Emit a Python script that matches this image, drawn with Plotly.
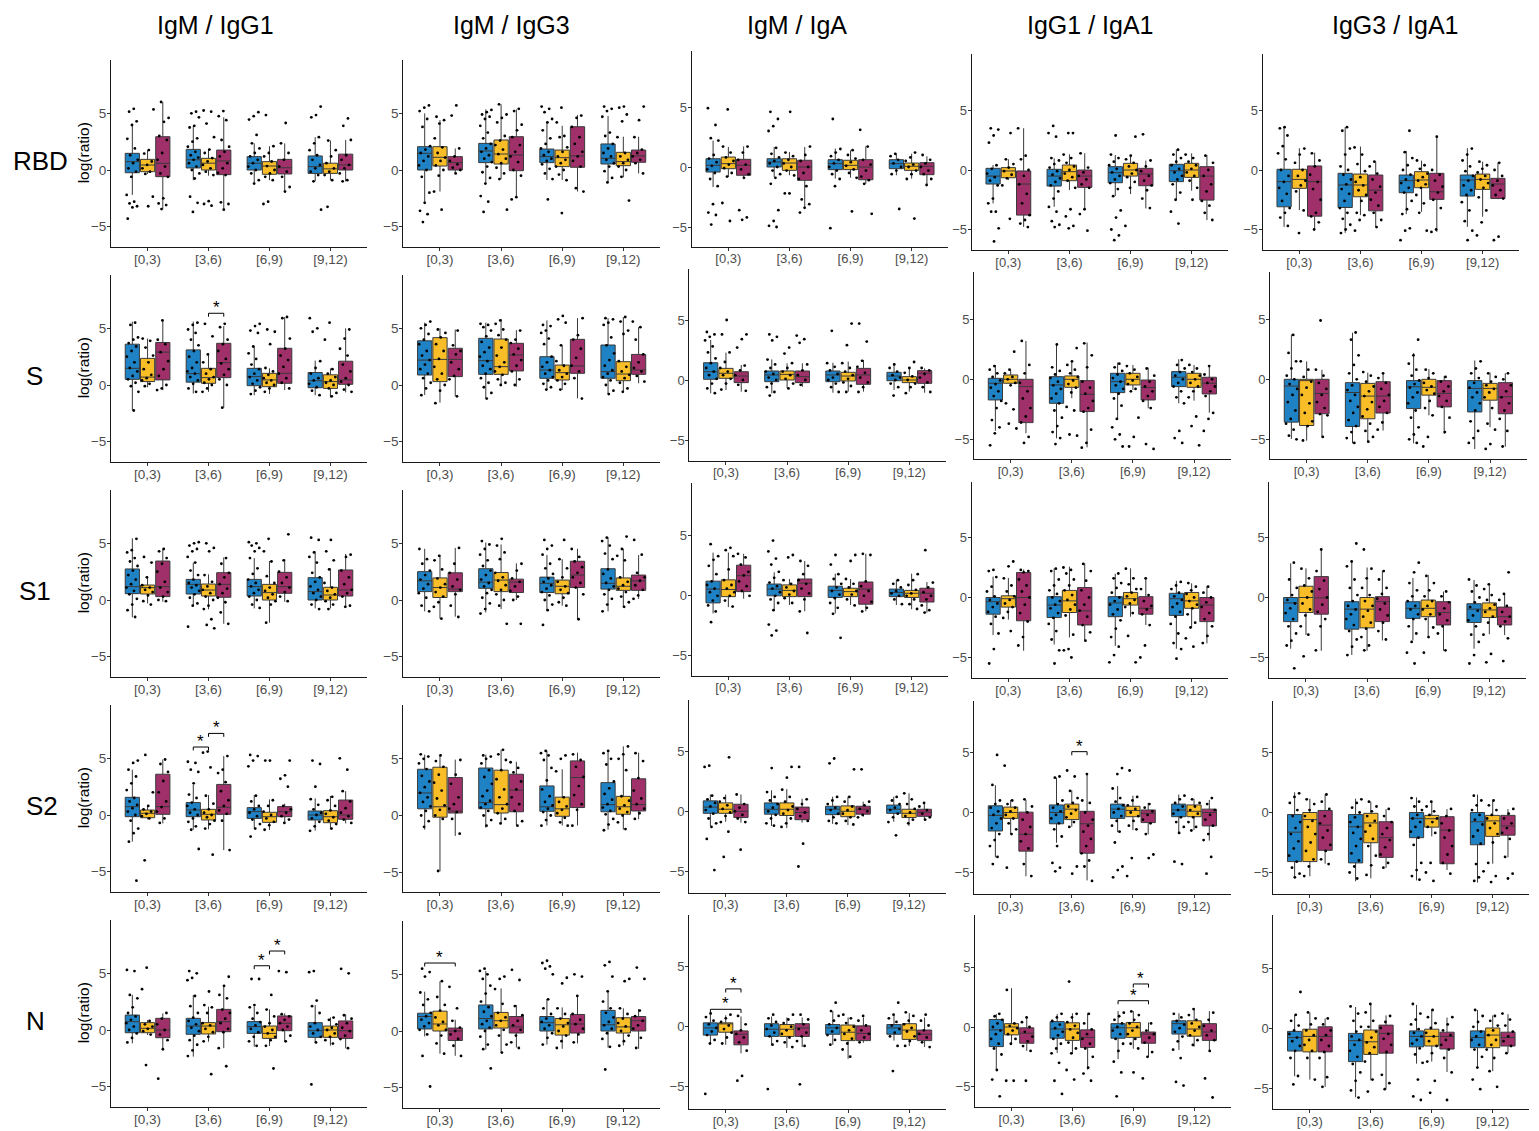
import plotly.graph_objects as go

ROWS = ["RBD", "S", "S1", "S2", "N"]
COLS = ["IgM / IgG1", "IgM / IgG3", "IgM / IgA", "IgG1 / IgA1", "IgG3 / IgA1"]
BINS = ["[0,3)", "[3,6)", "[6,9)", "[9,12)"]
GROUP_COLORS = ["#1f82c4", "#f9bd28", "#a0306a"]

# Box stats per box: [lower whisker, q1, median, q3, upper whisker]
# order: bin [0,3) blue, yellow, magenta, bin [3,6) blue, yellow, magenta, ...
RBD_MG1_BOX = [[-2.2,-0.24,0.74,1.47,3.97],[-0.35,-0.15,0.44,0.94,1.76],[-3.47,-0.59,0.59,2.94,6.0],
               [-0.9,0.18,0.9,1.82,3.9],[-0.5,0.0,0.6,1.03,1.8],[-3.5,-0.41,0.8,1.76,4.65],
               [-1.2,0.0,0.6,1.18,2.35],[-0.9,-0.38,0.35,0.74,2.1],[-1.9,-0.35,0.2,0.94,2.35],
               [-1.0,-0.3,0.3,1.24,2.9],[-0.9,-0.3,0.1,0.6,2.6],[-1.0,0.0,0.45,1.4,2.65]]
RBD_MG1_PTS = [[5.4,5.15,4.3,3.97,2.75,1.9,1.3,0.9,0.6,0.15,-0.15,-0.6,-2.2,-2.8,-2.95,-3.2,-3.3,-4.3],
               [5.35,1.76,1.45,0.75,0.45,0.15,-0.15,-0.35,-2.35,-3.2],
               [6.0,4.6,4.25,3.0,2.65,1.5,0.9,0.3,-0.3,-0.6,-2.5,-2.95,-3.1,-3.45],
               [5.15,5.0,4.65,3.9,3.75,2.8,2.5,2.05,1.6,1.3,1.1,0.9,0.6,0.3,0.0,-0.3,-0.75,-2.35,-2.9,-3.7],
               [5.25,5.15,4.1,2.9,1.8,1.5,1.05,0.75,0.45,0.15,-0.15,-0.45,-2.75,-3.0,-3.15],
               [5.2,4.75,4.4,2.65,2.05,1.6,1.2,0.6,0.15,-0.25,-0.45,-2.85,-3.0,-3.5],
               [5.1,4.75,4.45,3.1,2.35,1.9,1.5,1.2,0.9,0.6,0.3,0.0,-0.3,-0.9,-1.2],
               [4.85,2.1,1.5,1.2,0.75,0.35,0.0,-0.3,-0.6,-0.9,-2.8,-3.0],
               [4.15,2.35,1.5,0.9,0.3,-0.15,-0.6,-1.5,-1.9],
               [5.6,4.85,4.65,2.9,2.35,1.75,1.3,0.9,0.45,0.15,-0.15,-0.45,-1.0,-3.5],
               [2.6,1.75,1.2,0.6,0.15,-0.15,-0.45,-0.9,-3.25],
               [4.55,3.9,2.65,1.3,0.9,0.45,0.15,-0.3,-0.9,-1.0]]

RBD_MG3_BOX = [[-2.9,0.0,1.47,2.06,5.0],[-1.9,0.35,1.12,2.06,4.4],[-0.3,0.0,0.65,1.18,1.9],
               [-1.12,0.65,1.68,2.35,5.35],[-0.82,0.53,1.41,2.65,5.8],[-2.35,-0.06,1.32,2.94,5.35],
               [-0.88,0.65,1.18,1.85,4.26],[-0.88,0.3,1.09,1.76,3.9],[-1.9,0.24,1.24,3.82,4.85],
               [-1.12,0.53,1.03,2.3,4.76],[-0.65,0.38,0.74,1.56,2.94],[-0.3,0.68,1.24,1.76,2.94]]
RBD_MG3_PTS = [[5.7,5.5,5.2,4.5,3.8,2.1,1.8,1.5,1.2,0.8,0.4,0.0,-0.6,-2.0,-2.9,-3.6,-3.9,-4.6],
               [4.7,4.4,4.1,2.8,2.0,1.5,1.1,0.8,0.4,0.0,-0.5,-1.9,-3.5],
               [5.7,4.8,1.9,1.2,0.8,0.5,0.2,0.0,-0.3],
               [5.3,5.1,4.9,4.7,4.5,3.9,3.3,2.8,2.3,1.9,1.6,1.3,1.0,0.7,0.3,-0.2,-0.7,-1.2,-2.3,-2.8,-3.7],
               [5.8,4.9,4.6,4.2,3.0,2.6,2.2,1.8,1.4,1.0,0.6,0.2,-0.3,-0.8,-3.5],
               [5.4,5.2,4.0,3.5,2.9,2.2,1.6,1.2,0.7,0.0,-0.5,-2.4,-2.6],
               [5.6,5.4,5.1,4.5,4.2,3.5,2.8,2.3,1.9,1.6,1.3,1.0,0.8,0.5,0.1,-0.3,-0.8,-2.6],
               [5.5,4.2,3.0,2.9,2.0,1.6,1.2,0.9,0.6,0.3,0.0,-0.4,-0.9,-3.8],
               [4.8,4.6,3.8,2.9,2.3,1.6,1.2,0.8,0.3,-1.6,-1.9],
               [5.6,5.4,5.2,4.7,3.3,3.0,2.3,1.9,1.5,1.2,0.9,0.6,0.3,-0.1,-0.7,-1.1],
               [5.6,5.5,4.9,4.3,2.9,1.5,1.2,0.9,0.6,0.3,0.0,-0.6,-2.7],
               [5.6,4.4,2.9,1.8,1.5,1.2,0.9,0.6,-0.3]]

RBD_MA_BOX = [[-1.67,-0.42,0.14,0.69,2.2],[-0.83,-0.14,0.28,0.83,1.67],[-0.89,-0.69,0.14,0.64,1.72],
              [-0.83,0.0,0.42,0.69,1.67],[-0.69,-0.28,0.33,0.69,1.25],[-3.33,-1.11,0.0,0.56,1.67],
              [-0.97,-0.22,0.28,0.61,1.53],[-0.89,-0.22,0.14,0.56,1.39],[-1.39,-1.06,0.0,0.61,1.72],
              [-0.69,-0.14,0.28,0.61,1.11],[-0.97,-0.28,0.06,0.33,1.11],[-1.53,-0.64,0.06,0.36,0.89]]
RBD_MA_PTS = [[4.9,3.5,2.4,2.2,1.0,0.7,0.4,0.1,-0.2,-0.5,-1.0,-1.6,-3.1,-3.8,-4.0,-4.8],
              [4.8,1.7,1.2,0.8,0.5,0.2,-0.1,-0.5,-0.8,-3.0,-4.5],
              [1.7,1.2,0.6,0.2,-0.2,-0.6,-0.9,-3.6,-4.2,-4.4],
              [4.6,4.0,3.4,3.0,1.6,1.1,0.8,0.5,0.3,0.0,-0.3,-0.6,-0.9,-1.4,-3.6,-4.5,-4.9,-5.0],
              [4.6,1.2,0.9,0.6,0.3,0.0,-0.3,-0.7,-2.2,-2.2],
              [1.7,1.0,0.5,0.0,-0.5,-1.0,-1.6,-2.7,-3.1,-3.4,-3.8],
              [4.0,1.5,1.2,0.9,0.6,0.3,0.0,-0.3,-0.6,-1.0,-1.6,-5.1],
              [1.4,1.0,0.7,0.4,0.1,-0.2,-0.5,-0.9,-3.7],
              [3.1,1.7,0.6,0.2,-0.3,-0.8,-1.1,-1.4,-3.9],
              [1.1,0.9,0.6,0.3,0.0,-0.3,-0.6,-3.5],
              [1.2,0.8,0.5,0.2,0.0,-0.3,-0.6,-1.0,-4.3],
              [1.0,0.6,0.3,0.0,-0.3,-0.6,-1.0,-1.5]]

RBD_G1A1_BOX = [[-2.81,-1.18,-0.51,0.14,0.42],[-0.84,-0.65,-0.08,0.2,0.9],[-4.78,-3.79,-1.18,-0.08,3.51],
                [-3.09,-1.35,-0.51,0.06,0.98],[-1.69,-0.9,-0.14,0.42,1.32],[-3.31,-1.46,-0.51,0.0,1.4],
                [-2.19,-1.07,-0.22,0.28,1.26],[-2.02,-0.51,0.0,0.56,1.26],[-3.23,-1.32,-0.34,0.14,0.79],
                [-2.53,-0.98,-0.06,0.48,1.74],[-1.74,-0.62,0.0,0.56,1.4],[-4.21,-2.53,-0.51,0.28,1.26]]
RBD_G1A1_PTS = [[3.5,3.4,2.9,2.3,0.4,0.1,-0.3,-0.6,-0.9,-1.3,-2.4,-2.8,-3.5,-3.5,-4.9,-6.0],
                [3.1,0.9,0.5,0.2,-0.1,-0.4,-0.7,-1.3,-4.1],
                [3.5,1.2,0.9,0.0,-0.5,-1.2,-2.0,-2.8,-3.8,-4.2,-4.5,-4.8],
                [3.7,3.1,2.8,1.0,0.8,0.5,0.2,-0.1,-0.4,-0.7,-1.0,-1.3,-1.8,-2.4,-3.1,-3.5,-4.3,-4.6,-4.8],
                [3.1,3.1,1.3,1.0,0.6,0.3,0.0,-0.3,-0.6,-0.9,-1.5,-3.3,-3.9,-4.7,-4.9],
                [1.4,0.2,-0.2,-0.5,-0.8,-1.2,-1.5,-3.3,-3.7,-5.1],
                [2.9,1.3,1.0,0.7,0.4,0.1,-0.2,-0.5,-0.8,-1.1,-1.6,-2.2,-3.4,-4.0,-5.0,-5.5,-5.9],
                [2.8,1.2,0.9,0.6,0.3,0.0,-0.3,-0.6,-1.0,-1.5,-4.7],
                [3.0,0.8,0.3,-0.1,-0.5,-0.9,-1.3,-1.7,-2.4,-3.2],
                [1.7,1.3,1.0,0.7,0.4,0.1,-0.2,-0.5,-0.8,-1.2,-1.9,-2.5,-3.5,-4.5],
                [1.3,1.0,0.7,0.4,0.1,-0.2,-0.5,-0.9,-1.5,-2.5],
                [1.2,0.6,0.0,-0.5,-1.2,-1.8,-2.6,-3.0,-3.6,-4.2]]

RBD_G3A1_BOX = [[-4.78,-3.09,-0.98,0.06,3.6],[-3.37,-1.54,-0.79,0.06,1.83],[-5.0,-3.88,-0.98,0.34,1.46],
                [-5.28,-3.15,-1.26,-0.28,3.6],[-3.79,-2.25,-1.26,-0.34,1.97],[-4.78,-3.43,-1.69,-0.42,0.7],
                [-3.71,-1.91,-0.9,-0.42,1.6],[-3.51,-1.49,-0.84,-0.14,0.79],[-5.2,-2.47,-1.83,-0.28,2.87],
                [-4.78,-2.19,-0.84,-0.42,1.83],[-3.93,-1.63,-0.79,-0.34,0.7],[-2.45,-2.39,-1.18,-0.7,0.62]]
RBD_G3A1_PTS = [[3.6,3.5,2.9,2.0,1.4,0.9,0.0,-0.5,-1.0,-1.5,-2.0,-2.6,-3.2,-3.6,-4.0,-4.7],
                [1.8,1.3,0.6,0.0,-0.5,-0.9,-1.3,-1.8,-3.4,-5.3],
                [1.4,0.8,0.3,-0.4,-1.0,-1.6,-2.5,-3.6,-3.9,-4.4,-5.0],
                [3.6,3.3,1.8,1.3,0.3,0.0,-0.4,-0.8,-1.2,-1.6,-2.0,-2.6,-3.2,-3.6,-4.1,-4.6,-5.0,-5.3],
                [1.9,1.3,0.5,-0.1,-0.6,-1.0,-1.3,-1.7,-2.1,-2.6,-3.6,-3.8,-4.2,-5.1],
                [0.7,0.3,-0.3,-0.8,-1.4,-1.9,-2.5,-3.0,-3.6,-4.2,-4.8],
                [3.3,1.5,1.0,0.4,0.0,-0.4,-0.8,-1.1,-1.5,-1.9,-2.6,-3.3,-3.7,-4.9,-5.1,-5.9],
                [0.8,0.4,0.1,-0.3,-0.6,-0.9,-1.2,-1.5,-2.1,-2.8,-3.6,-5.1],
                [2.8,0.0,-0.4,-0.9,-1.4,-1.9,-2.5,-3.2,-5.0,-5.2],
                [1.8,1.3,0.8,0.3,-0.1,-0.5,-0.9,-1.3,-1.7,-2.1,-2.7,-3.4,-4.3,-5.1,-5.9],
                [0.7,0.4,0.1,-0.2,-0.5,-0.8,-1.1,-1.5,-2.3,-3.4,-4.4,-5.5],
                [0.6,0.0,-0.5,-0.9,-1.3,-1.7,-2.1,-2.4,-5.6,-5.9]]

S_MG1_BOX = [[-2.25,0.5,1.47,3.6,5.6],[-0.2,0.3,0.7,2.35,4.1],[-0.45,0.45,2.9,3.75,5.7],
             [-0.75,0.25,1.0,3.1,5.6],[-0.6,0.15,0.65,1.47,2.8],[-2.0,0.65,1.97,3.68,5.2],
             [-0.9,-0.06,0.74,1.47,3.4],[-0.8,-0.15,0.45,1.03,1.47],[-0.45,0.15,1.03,3.24,6.0],
             [-0.9,-0.24,0.38,1.1,2.15],[-1.1,-0.3,0.3,0.9,1.47],[-0.65,0.06,0.45,2.1,5.0]]
S_MG1_PTS = [[5.5,5.3,4.2,4.0,3.7,3.4,3.0,2.5,2.0,1.5,1.2,0.8,0.5,0.2,-0.1,-0.6,-2.25],
             [4.1,3.9,3.3,2.6,2.0,1.4,0.9,0.6,0.4,0.1,-0.1],
             [5.7,4.0,3.6,2.9,2.1,1.4,0.8,0.0,-0.3,-0.45],
             [5.5,5.3,4.9,4.6,4.0,3.5,3.0,2.5,2.0,1.5,1.2,1.0,0.7,0.4,0.1,-0.3,-0.6],
             [5.4,4.3,2.7,2.0,1.4,1.0,0.7,0.5,0.2,0.0,-0.3,-0.6],
             [5.4,5.1,4.0,3.6,3.0,2.3,1.9,1.4,0.9,0.5,0.0,-2.0],
             [5.4,5.2,4.8,4.6,3.4,2.8,2.3,1.8,1.4,1.0,0.7,0.4,0.1,-0.2,-0.5,-0.8],
             [4.9,4.7,3.6,1.5,1.2,0.9,0.6,0.4,0.2,0.0,-0.3,-0.6],
             [6.0,5.9,4.1,3.2,2.6,2.2,1.6,1.0,0.6,0.2,-0.3],
             [5.9,5.0,4.7,2.1,1.5,1.0,0.6,0.4,0.1,-0.2,-0.5,-0.9],
             [5.5,4.0,1.4,1.0,0.7,0.4,0.2,0.0,-0.3,-0.7,-1.0],
             [4.9,4.1,3.2,2.6,1.8,1.2,0.6,0.3,0.0,-0.4,-0.6]]

S_MG3_BOX = [[-0.88,0.88,2.2,3.9,5.5],[-1.56,0.3,2.26,4.18,5.0],[-1.0,0.74,2.26,3.24,4.9],
             [-1.18,0.94,2.15,4.12,5.5],[0.0,0.94,1.62,4.06,5.8],[-0.15,1.24,2.65,3.68,4.85],
             [-0.44,0.59,1.32,2.5,5.7],[-0.44,0.44,1.09,1.76,3.5],[-1.18,1.03,1.68,4.03,5.9],
             [-0.8,0.59,1.18,3.53,5.9],[-0.6,0.38,0.97,2.06,6.0],[0.15,0.94,1.32,2.7,5.1]]
S_MG3_PTS = [[5.6,5.3,5.0,4.5,4.0,3.6,3.0,2.6,2.2,1.8,1.4,1.0,0.6,0.2,-0.3,-0.9],
             [4.9,4.6,4.2,3.6,3.0,2.3,1.6,1.0,0.5,0.0,-0.5,-1.6],
             [4.8,3.5,3.0,2.7,2.0,1.4,0.8,0.5,-1.0],
             [5.4,5.3,5.1,4.8,4.3,3.8,3.3,2.9,2.5,2.1,1.7,1.4,1.0,0.6,0.2,-0.2,-0.7,-1.2],
             [5.7,5.4,4.9,4.4,4.0,3.3,2.6,2.0,1.6,1.2,0.9,0.5,0.2,0.0],
             [4.8,4.0,3.7,3.2,2.7,2.2,1.7,1.2,0.5,0.0],
             [5.3,5.2,4.8,4.6,4.1,3.6,2.5,2.0,1.6,1.3,1.0,0.7,0.4,0.1,-0.2,-0.4],
             [6.1,5.8,5.5,3.5,2.1,1.7,1.3,1.0,0.7,0.4,0.1,-0.4],
             [5.9,4.4,4.0,3.2,2.4,1.7,1.2,0.6,-1.2],
             [5.9,5.8,5.5,5.3,4.2,3.5,2.8,2.2,1.7,1.3,1.0,0.7,0.4,0.0,-0.5,-0.8],
             [6.0,5.6,4.8,4.5,2.1,1.6,1.2,0.9,0.6,0.2,-0.3,-0.6],
             [5.6,5.1,4.0,2.7,2.0,1.5,1.2,0.8,0.3]]

S_MA_BOX = [[-1.11,0.06,0.69,1.44,3.33],[-0.83,0.14,0.56,0.97,2.28],[-0.97,-0.22,0.33,0.69,1.25],
            [-1.11,-0.14,0.42,0.75,1.72],[-0.69,0.0,0.47,0.75,1.39],[-0.56,-0.22,0.28,0.75,1.39],
            [-1.06,-0.14,0.42,0.75,1.44],[-0.97,-0.08,0.33,0.64,1.53],[-0.97,-0.36,0.42,0.97,1.67],
            [-0.83,-0.06,0.33,0.64,1.39],[-0.97,-0.22,0.0,0.28,0.97],[-1.06,-0.28,0.56,0.78,0.97]]
S_MA_PTS = [[4.0,3.8,3.6,3.3,2.8,2.3,1.8,1.4,1.0,0.7,0.4,0.1,-0.3,-0.7,-1.1],
            [5.0,3.8,2.3,1.5,1.0,0.7,0.4,0.1,-0.3,-0.8],
            [3.8,3.4,2.7,1.2,0.8,0.4,0.0,-0.4,-0.9],
            [3.8,3.6,3.3,1.7,1.3,1.0,0.7,0.5,0.2,0.0,-0.3,-0.6,-1.0,-1.3],
            [2.7,2.2,1.4,1.0,0.7,0.4,0.1,-0.3,-0.7],
            [3.7,3.4,3.1,1.3,0.8,0.4,0.0,-0.4],
            [4.1,1.4,1.1,0.8,0.5,0.2,0.0,-0.3,-0.6,-1.0],
            [4.7,2.9,1.4,1.0,0.7,0.4,0.1,-0.2,-0.5,-1.0],
            [4.7,3.2,1.6,1.1,0.6,0.2,-0.2,-0.6,-1.0],
            [1.3,1.0,0.7,0.4,0.2,0.0,-0.3,-0.6,-1.3],
            [1.5,1.0,0.6,0.3,0.0,-0.3,-0.6,-1.1],
            [1.0,0.8,0.5,0.2,-0.2,-0.6,-1.0]]

S_G1A1_BOX = [[-4.28,-1.72,-0.33,0.08,1.19],[-0.47,-0.33,0.0,0.36,0.78],[-4.5,-3.61,-0.61,0.0,3.19],
              [-4.92,-2.0,-0.47,0.22,2.94],[-1.58,-0.67,0.0,0.28,1.47],[-5.67,-2.69,-1.25,-0.11,3.06],
              [-3.33,-1.11,-0.19,0.5,1.39],[-0.89,-0.47,0.0,0.5,1.19],[-2.42,-1.72,-0.69,-0.06,0.97],
              [-2.0,-0.61,0.17,0.64,1.67],[-1.78,-0.67,0.0,0.5,1.19],[-2.78,-1.22,-0.33,0.17,1.19]]
S_G1A1_PTS = [[1.1,0.8,0.5,0.2,-0.1,-0.4,-0.7,-1.0,-1.4,-1.8,-2.4,-3.4,-4.0,-4.5,-5.5],
              [2.3,0.8,0.5,0.2,0.0,-0.3,-0.5,-2.0,-2.5,-3.7,-4.1],
              [3.2,1.2,0.5,-0.3,-1.0,-1.6,-2.4,-3.1,-3.6,-4.8,-5.3],
              [2.9,1.0,0.7,0.4,0.1,-0.2,-0.5,-0.8,-1.2,-1.6,-2.0,-2.6,-3.2,-3.9,-4.4,-4.9,-5.4],
              [2.6,1.5,1.2,0.8,0.5,0.2,-0.1,-0.4,-0.7,-1.1,-2.3,-2.6,-4.6,-4.7],
              [3.0,2.0,1.0,-0.2,-0.7,-1.2,-1.8,-2.4,-2.7,-4.2,-5.3,-5.7],
              [1.3,1.0,0.7,0.4,0.1,-0.2,-0.5,-0.8,-1.2,-1.6,-2.2,-3.3,-4.0,-4.6,-5.0,-5.6],
              [1.1,0.8,0.5,0.2,-0.1,-0.4,-0.8,-1.0,-3.2,-4.8,-5.6],
              [0.9,0.3,-0.2,-0.6,-1.0,-1.4,-1.8,-2.4,-5.4,-5.8],
              [1.6,1.2,0.9,0.6,0.3,0.0,-0.3,-0.6,-1.0,-1.5,-2.0,-4.3,-4.9,-5.3],
              [1.2,0.9,0.6,0.3,0.0,-0.3,-0.6,-1.0,-1.5,-3.1,-3.9,-5.5],
              [1.1,0.4,0.0,-0.3,-0.6,-1.0,-1.4,-2.8,-3.3,-4.3]]

S_G3A1_BOX = [[-4.97,-3.57,-0.56,0.0,3.74],[-5.11,-3.85,-0.11,0.0,1.49],[-4.83,-2.87,-1.18,0.0,0.79],
              [-5.34,-3.93,-1.1,-0.28,3.88],[-5.25,-3.29,-1.4,-0.34,0.56],[-4.27,-2.81,-1.4,-0.2,0.51],
              [-5.34,-2.44,-0.62,-0.11,2.19],[-3.0,-1.32,-0.67,0.0,0.84],[-4.55,-2.3,-1.18,-0.11,0.28],
              [-5.81,-2.72,-0.76,-0.11,1.57],[-3.99,-1.74,-0.76,-0.34,0.56],[-5.62,-2.87,-1.46,-0.28,0.51]]
S_G3A1_PTS = [[3.7,2.2,1.5,0.9,0.3,0.0,-0.4,-0.8,-1.3,-1.9,-2.6,-3.3,-3.7,-4.2,-4.7,-5.0],
              [1.5,0.8,0.2,-0.2,-0.7,-1.3,-2.0,-2.8,-3.5,-3.9,-5.1],
              [4.9,0.8,0.3,-0.3,-0.8,-1.3,-1.9,-2.4,-2.9,-3.0,-4.8],
              [3.9,3.3,2.0,1.2,0.5,0.0,-0.5,-0.9,-1.3,-1.8,-2.3,-2.8,-3.4,-3.9,-4.4,-4.9,-5.3],
              [0.6,0.3,-0.2,-0.6,-1.0,-1.4,-1.9,-2.5,-3.1,-3.7,-4.3,-4.8,-5.2],
              [0.5,0.1,-0.3,-0.8,-1.3,-1.8,-2.3,-2.8,-3.6,-4.2],
              [3.3,2.0,1.3,0.8,0.3,-0.1,-0.4,-0.7,-1.1,-1.5,-2.0,-2.6,-3.2,-4.0,-4.6,-5.0,-5.3],
              [0.8,0.5,0.1,-0.3,-0.6,-0.9,-1.2,-1.8,-2.4,-3.0,-4.8,-5.6],
              [0.2,-0.2,-0.6,-1.0,-1.4,-1.8,-2.3,-3.2,-4.4],
              [1.5,0.9,0.5,0.1,-0.3,-0.7,-1.1,-1.5,-2.0,-2.6,-3.5,-4.3,-4.9,-5.3],
              [0.5,0.2,-0.2,-0.5,-0.8,-1.1,-1.5,-2.4,-3.7,-4.2,-5.4,-5.8],
              [0.5,0.0,-0.5,-1.0,-1.5,-2.0,-2.6,-3.3,-4.3,-5.6]]

S1_MG1_BOX = [[-1.53,0.56,1.18,2.74,5.45],[-0.3,0.53,1.09,1.32,2.1],[-0.15,0.3,1.18,3.44,4.55],
              [-0.53,0.53,1.38,1.82,3.3],[-0.82,0.35,0.88,1.41,2.26],[-2.1,0.24,1.38,2.41,3.76],
              [-0.74,0.35,1.18,1.82,3.7],[-2.0,0.0,0.65,1.38,3.44],[-0.15,0.59,1.18,2.44,3.6],
              [-0.74,0.0,0.74,1.97,4.3],[-0.74,0.0,0.44,1.12,2.8],[-0.6,0.35,0.88,2.65,4.06]]
S1_MG1_PTS = [[5.4,4.4,4.2,3.7,3.4,3.0,2.6,2.2,1.8,1.4,1.1,0.8,0.5,0.1,-0.4,-0.9,-1.5],
              [3.8,3.3,2.0,1.3,1.1,0.9,0.7,0.4,-0.1,-0.4],
              [4.5,4.3,3.7,3.2,2.5,1.6,1.1,0.7,0.3,0.0,-0.1],
              [5.1,5.0,4.8,4.5,4.3,3.8,3.3,2.6,2.2,1.8,1.5,1.3,1.1,0.8,0.5,0.2,-0.3,-0.5,-2.35],
              [5.0,4.6,4.3,2.2,1.6,1.2,0.9,0.6,0.3,0.0,-0.5,-0.8,-1.7,-2.2,-2.5],
              [3.7,3.2,2.4,2.0,1.4,1.0,0.6,0.2,-0.2,-1.1,-2.1],
              [5.1,5.0,4.8,4.6,4.3,3.7,2.8,2.3,1.8,1.5,1.2,0.9,0.6,0.3,0.0,-0.4,-0.7],
              [5.4,4.3,3.4,2.1,1.5,1.1,0.8,0.5,0.2,-0.1,-0.4,-2.0],
              [5.8,3.5,2.5,2.0,1.5,1.1,0.7,0.3,-0.1],
              [5.5,5.3,4.2,3.8,3.3,2.4,2.0,1.6,1.2,0.9,0.6,0.3,0.0,-0.4,-0.8],
              [5.3,4.3,3.5,2.7,1.5,1.1,0.8,0.5,0.2,-0.1,-0.4,-0.8],
              [4.0,3.8,2.6,2.0,1.4,0.9,0.6,0.3,-0.5,-0.6]]

S1_MG3_BOX = [[-1.0,0.74,1.69,2.5,4.52],[-1.65,0.22,1.1,1.95,3.97],[-1.47,0.74,0.96,2.4,4.6],
              [-1.1,1.03,1.58,2.76,5.07],[-0.8,0.74,1.76,2.43,4.9],[0.0,0.66,1.58,1.84,3.24],
              [-0.88,0.66,1.47,2.02,3.97],[-0.5,0.55,1.21,1.76,3.6],[-1.73,1.1,2.2,3.42,4.52],
              [-1.0,0.96,1.47,2.76,5.55],[-0.63,0.85,1.21,1.95,4.52],[0.1,0.85,1.69,2.2,3.97]]
S1_MG3_PTS = [[4.5,3.6,3.2,2.6,2.2,1.8,1.4,1.0,0.6,0.2,-0.5,-1.0],
              [3.9,3.5,2.7,1.9,1.4,1.1,0.7,0.3,-0.2,-0.6,-1.65],
              [4.6,3.2,2.4,1.8,1.2,0.9,0.5,-0.5,-1.5],
              [5.2,4.9,4.5,4.0,3.5,3.0,2.6,2.2,1.8,1.5,1.2,0.9,0.6,0.2,-0.3,-0.8,-1.2],
              [5.4,4.8,4.2,3.6,2.4,2.0,1.7,1.3,0.9,0.5,0.0,-0.5,-2.1],
              [3.2,2.6,1.9,1.6,1.2,0.8,0.3,0.0,-2.1],
              [5.3,4.8,4.5,4.0,3.2,2.8,2.3,1.9,1.6,1.3,1.0,0.7,0.4,0.0,-0.4,-0.9,-2.2],
              [5.3,3.6,2.8,2.0,1.6,1.2,0.9,0.6,0.2,-0.2,-0.5],
              [4.5,3.8,3.4,2.9,2.4,2.0,1.5,1.1,0.5,-1.7],
              [5.5,5.2,4.8,4.1,3.6,2.7,2.3,1.9,1.5,1.2,0.9,0.5,0.1,-0.4,-1.0],
              [5.6,4.5,3.9,3.5,2.0,1.6,1.3,1.0,0.7,0.3,-0.2,-0.6],
              [5.3,4.0,2.4,2.0,1.7,1.3,0.9,0.4,0.1]]

S1_MA_BOX = [[-1.47,-0.59,0.56,1.22,3.6],[-0.94,-0.07,0.52,1.33,3.6],[-0.24,0.35,1.68,2.55,3.5],
             [-1.19,0.0,0.56,0.98,1.96],[-0.77,-0.07,0.45,0.91,1.4],[-1.29,-0.07,1.05,1.4,2.9],
             [-1.47,-0.14,0.45,0.8,1.85],[-0.77,-0.07,0.35,0.63,1.4],[-1.29,-0.7,0.56,1.15,3.5],
             [-0.77,-0.07,0.28,0.56,1.33],[-1.12,-0.14,0.21,0.45,1.85],[-1.4,-0.52,0.21,0.63,1.15]]
S1_MA_PTS = [[4.3,3.3,3.0,2.5,1.8,1.2,0.9,0.6,0.3,0.0,-0.4,-0.8,-1.3,-2.2],
             [4.0,3.8,3.3,2.2,1.3,0.9,0.6,0.3,0.0,-0.4,-0.9],
             [3.5,3.2,2.6,2.0,1.7,1.2,0.8,0.4,0.0],
             [4.6,3.7,3.1,2.6,2.0,1.5,1.1,0.8,0.6,0.3,0.0,-0.3,-0.6,-1.2,-2.4,-2.9,-3.3],
             [3.4,3.2,1.3,1.0,0.7,0.4,0.1,-0.2,-0.6],
             [2.9,2.5,1.8,1.3,1.0,0.6,0.2,-0.3,-1.3,-3.1],
             [3.4,2.6,1.8,1.4,1.0,0.7,0.4,0.1,-0.2,-0.6,-1.0,-1.5,-3.5],
             [3.4,2.9,1.4,1.0,0.7,0.4,0.1,-0.3,-0.8],
             [3.5,3.4,1.2,0.8,0.4,0.0,-0.5,-1.0,-1.3],
             [1.3,1.0,0.7,0.4,0.2,0.0,-0.3,-0.7],
             [1.8,1.3,0.9,0.5,0.2,0.0,-0.3,-0.7,-1.1],
             [3.8,1.1,0.7,0.3,0.0,-0.3,-0.8,-1.2,-1.4]]

S1_G1A1_BOX = [[-3.13,-1.39,-0.35,0.0,1.74],[-1.84,-0.8,-0.1,0.14,1.63],[-4.44,-1.94,0.0,2.08,2.33],
               [-3.92,-1.67,-0.63,0.07,2.43],[-3.33,-1.25,-0.28,0.59,2.57],[-3.58,-2.29,-1.11,0.83,2.85],
               [-4.03,-1.6,-0.45,0.07,1.98],[-1.6,-0.63,-0.1,0.42,2.43],[-2.29,-1.39,-0.9,0.07,1.63],
               [-4.27,-1.49,-0.1,0.35,1.39],[-2.53,-0.9,-0.28,0.42,1.18],[-3.82,-2.01,-0.63,0.0,0.94]]
S1_G1A1_PTS = [[2.3,2.2,1.7,0.9,0.5,0.1,-0.2,-0.5,-0.8,-1.2,-1.6,-2.2,-3.0,-4.3,-5.5],
               [3.0,2.6,1.6,1.0,0.5,0.1,-0.2,-0.5,-0.8,-1.2,-1.7,-2.8],
               [2.3,2.2,2.1,1.5,1.0,0.5,0.0,-0.6,-1.3,-2.0,-3.3,-4.0],
               [2.4,2.2,1.5,1.0,0.6,0.3,0.0,-0.3,-0.6,-0.9,-1.3,-1.7,-2.2,-2.8,-3.5,-4.4,-5.5],
               [2.5,2.3,2.0,1.5,1.0,0.6,0.2,-0.2,-0.6,-1.0,-1.5,-3.1,-4.3,-4.4,-5.0],
               [2.8,2.2,1.4,0.6,0.0,-0.6,-1.1,-1.6,-2.3,-2.9,-3.6],
               [2.0,1.6,1.2,0.8,0.4,0.0,-0.3,-0.6,-1.0,-1.4,-1.9,-2.6,-3.3,-4.1,-4.8,-5.4],
               [2.4,1.6,1.1,0.7,0.4,0.1,-0.2,-0.5,-0.8,-1.3,-3.2,-5.4],
               [1.6,0.7,0.2,-0.3,-0.7,-1.0,-1.4,-2.3,-4.0,-5.0],
               [1.3,1.0,0.7,0.4,0.1,-0.2,-0.5,-0.8,-1.2,-1.6,-2.2,-3.0,-3.8,-4.3,-5.1],
               [1.2,0.9,0.6,0.3,0.0,-0.3,-0.6,-0.9,-1.4,-2.1,-2.5,-3.4,-4.1],
               [0.9,0.4,0.0,-0.4,-0.8,-1.3,-1.8,-2.4,-3.2,-3.8]]

S1_G3A1_BOX = [[-4.27,-2.01,-0.45,0.0,2.85],[-3.13,-1.25,0.0,0.94,2.43],[-4.44,-1.39,-0.03,1.74,4.06],
               [-4.79,-2.64,-0.97,-0.35,3.02],[-4.44,-2.53,-0.97,0.0,2.5],[-3.58,-2.01,-0.35,0.07,2.22],
               [-3.58,-1.74,-0.9,-0.35,1.63],[-3.33,-1.6,-0.9,-0.21,1.88],[-4.44,-2.29,-1.25,-0.35,0.49],
               [-4.27,-2.08,-0.97,-0.52,1.46],[-3.06,-1.67,-1.04,-0.45,1.11],[-3.13,-2.29,-1.6,-0.8,0.35]]
S1_G3A1_PTS = [[2.9,1.5,0.8,0.2,-0.2,-0.5,-0.9,-1.3,-1.8,-2.4,-3.0,-3.6,-4.0,-5.9],
               [2.4,1.6,1.0,0.5,0.0,-0.5,-1.0,-1.5,-2.4,-3.1,-4.9],
               [4.0,2.2,1.4,0.7,0.0,-0.6,-1.2,-1.8,-2.4,-4.4],
               [4.5,3.0,2.6,1.5,0.8,0.2,-0.3,-0.7,-1.0,-1.4,-1.8,-2.3,-2.8,-3.5,-4.1,-4.8],
               [4.0,2.4,1.6,0.8,0.2,-0.3,-0.7,-1.1,-1.6,-2.1,-2.6,-3.3,-4.0,-4.4],
               [2.2,1.5,0.8,0.3,-0.1,-0.5,-1.0,-1.5,-2.1,-2.8,-3.5],
               [2.9,2.1,1.2,0.6,0.1,-0.3,-0.7,-1.0,-1.4,-1.8,-2.4,-3.0,-3.7,-4.6,-5.5],
               [1.8,1.2,0.6,0.1,-0.3,-0.7,-1.0,-1.4,-1.8,-2.5,-3.3,-4.6],
               [0.5,0.1,-0.4,-0.9,-1.4,-1.9,-2.4,-3.0,-4.4],
               [1.5,1.0,0.5,0.0,-0.4,-0.8,-1.1,-1.5,-1.9,-2.4,-3.1,-3.7,-4.8,-5.5],
               [1.1,0.7,0.2,-0.2,-0.6,-0.9,-1.2,-1.6,-2.1,-3.1,-4.7,-5.4],
               [2.1,0.3,-0.2,-0.7,-1.2,-1.6,-2.0,-2.4,-3.4,-5.3]]

S2_MG1_BOX = [[-2.35,-0.15,0.74,1.56,4.0],[-0.38,-0.24,0.15,0.44,0.8],[-0.74,0.06,0.74,3.6,4.9],
              [-1.3,-0.15,0.44,1.1,2.65],[-1.26,-0.44,0.06,0.5,1.76],[-3.1,0.06,0.68,2.7,5.2],
              [-1.18,-0.3,0.3,0.65,1.76],[-1.32,-0.65,-0.15,0.24,1.38],[-0.74,-0.15,0.3,0.74,1.0],
              [-1.38,-0.44,0.0,0.35,1.47],[-1.26,-0.68,-0.15,0.38,1.68],[-0.74,-0.38,0.0,1.32,2.1]]
S2_MG1_PTS = [[4.8,4.6,4.0,3.4,2.8,2.2,1.5,1.2,0.9,0.6,0.3,0.0,-0.5,-1.2,-1.6,-2.35,-5.8],
              [5.3,2.0,0.8,0.5,0.3,0.1,-0.1,-0.3,-4.0],
              [4.9,4.5,3.8,3.0,2.0,1.2,0.7,0.3,-0.3,-0.7],
              [4.7,4.6,4.0,3.8,2.8,1.8,1.5,1.1,0.8,0.5,0.2,0.0,-0.3,-0.6,-1.0,-1.3,-3.0],
              [5.6,5.5,4.2,1.7,1.0,0.5,0.2,0.0,-0.2,-0.5,-0.8,-1.2,-3.5],
              [5.2,4.0,3.7,2.9,2.1,1.3,0.8,0.4,0.1,-0.5,-3.1],
              [5.3,5.2,4.8,4.3,1.7,1.2,0.8,0.5,0.2,-0.1,-0.4,-0.8,-1.2,-1.9],
              [4.8,4.8,1.3,0.8,0.3,0.0,-0.3,-0.6,-0.9,-1.3],
              [4.8,3.5,3.2,2.5,0.8,0.5,0.2,-0.1,-0.4,-0.7],
              [4.8,4.5,2.5,1.4,0.9,0.5,0.2,0.0,-0.3,-0.6,-1.0,-1.4],
              [1.6,1.3,0.8,0.4,0.1,-0.2,-0.5,-0.8,-1.2],
              [5.0,4.0,2.1,1.2,0.6,0.2,-0.1,-0.4,-0.7]]

S2_MG3_BOX = [[-1.25,0.59,1.99,4.08,5.37],[-4.93,-0.15,0.77,4.26,5.37],[-1.8,0.22,0.4,3.35,4.93],
              [-1.07,0.59,1.14,4.19,5.37],[-0.7,0.22,0.96,4.0,5.8],[-0.88,0.33,2.24,3.64,4.74],
              [-0.88,0.37,0.77,2.61,5.73],[-0.88,-0.07,0.59,1.62,4.08],[-0.88,0.7,3.35,4.82,5.55],
              [-1.25,0.33,0.96,2.9,5.73],[-1.25,0.11,0.77,1.69,6.1],[-0.33,0.4,0.96,3.24,5.55]]
S2_MG3_PTS = [[5.4,5.2,5.0,4.6,4.1,3.5,3.0,2.5,2.0,1.6,1.2,0.8,0.4,0.0,-0.5,-1.0],
              [5.3,4.8,4.3,3.6,2.9,2.2,1.5,0.9,0.5,0.0,-0.3,-4.9],
              [4.9,3.6,2.8,1.6,1.0,0.6,0.3,-0.3,-1.6],
              [5.3,5.2,5.0,4.6,4.0,3.4,2.8,2.2,1.7,1.3,1.0,0.7,0.4,0.0,-0.4,-0.9],
              [5.8,5.4,4.9,4.0,3.2,2.3,1.6,1.0,0.6,0.2,-0.3,-0.7],
              [4.7,4.2,3.8,3.0,2.3,1.6,1.0,0.4,-0.5,-0.9],
              [5.7,5.5,5.3,4.9,4.2,3.1,2.3,1.7,1.2,0.9,0.6,0.3,0.0,-0.4,-0.9],
              [5.3,5.0,3.9,1.6,1.2,0.8,0.5,0.2,-0.2,-0.6,-0.9],
              [5.4,4.9,4.3,3.4,2.6,1.8,1.0,0.5,-0.9],
              [5.7,5.5,5.0,4.5,3.0,2.4,1.9,1.4,1.0,0.7,0.4,0.1,-0.3,-0.8,-1.3],
              [6.1,5.4,5.0,4.0,1.7,1.3,0.9,0.6,0.3,0.0,-0.6,-1.2],
              [5.5,4.8,3.3,2.2,1.5,1.0,0.6,0.2,-0.3]]

S2_MA_BOX = [[-1.22,-0.17,0.35,0.87,1.4],[-0.87,-0.17,0.17,0.7,1.4],[-0.94,-0.52,0.0,0.59,1.4],
             [-1.22,-0.24,0.17,0.7,1.75],[-1.4,-0.35,0.17,0.7,1.85],[-0.94,-0.7,-0.1,0.35,1.05],
             [-1.05,-0.28,0.17,0.42,1.22],[-1.15,-0.45,0.0,0.45,1.22],[-0.45,-0.24,0.17,0.42,0.8],
             [-0.87,-0.17,0.17,0.52,1.22],[-1.22,-0.52,-0.17,0.17,1.5],[-0.7,-0.42,-0.07,0.17,0.7]]
S2_MA_PTS = [[3.8,3.7,1.3,1.0,0.7,0.4,0.1,-0.2,-0.6,-1.0,-1.3,-2.3,-4.9],
             [4.5,1.1,0.8,0.5,0.2,-0.1,-0.4,-0.9,-1.7,-3.8],
             [1.4,0.6,0.3,0.0,-0.3,-0.6,-0.9,-3.2],
             [3.6,1.6,1.2,0.9,0.6,0.3,0.0,-0.3,-0.6,-1.0,-1.2],
             [3.7,2.8,1.8,1.2,0.8,0.4,0.1,-0.2,-0.6,-1.0,-1.3],
             [3.7,1.0,0.6,0.2,-0.1,-0.4,-0.8,-2.7,-4.6],
             [4.4,4.0,1.2,0.9,0.6,0.3,0.1,-0.2,-0.5,-0.8,-1.0],
             [3.5,1.2,0.8,0.4,0.1,-0.2,-0.5,-0.8,-1.1],
             [3.5,0.8,0.5,0.2,0.0,-0.3,-0.5],
             [1.2,0.9,0.6,0.3,0.1,-0.2,-0.5,-0.9,-2.0],
             [1.5,1.0,0.6,0.2,-0.1,-0.4,-0.7,-1.0],
             [0.7,0.4,0.1,-0.2,-0.5,-0.7]]

S2_G1A1_BOX = [[-3.74,-1.54,-0.24,0.56,2.27],[-1.82,-0.49,0.0,0.45,1.05],[-5.31,-3.22,-1.82,0.03,1.05],
               [-2.52,-0.94,0.0,0.63,2.9],[-1.19,-0.59,0.28,0.7,1.85],[-5.66,-3.39,-0.94,0.1,3.25],
               [-1.64,-0.49,0.28,0.7,2.2],[-1.47,-0.35,0.17,0.52,1.4],[-1.82,-0.84,-0.07,0.21,0.8],
               [-1.75,-0.35,0.21,0.7,1.5],[-1.47,-0.35,0.1,0.63,1.15],[-2.34,-1.12,0.0,0.28,1.05]]
S2_G1A1_PTS = [[4.8,2.3,1.0,0.7,0.4,0.1,-0.2,-0.5,-0.9,-1.3,-1.8,-2.3,-2.8,-3.7,-4.3],
               [3.9,1.0,0.7,0.4,0.1,-0.2,-0.5,-0.9,-1.4,-1.8,-4.6],
               [1.1,0.5,0.0,-0.6,-1.2,-1.8,-2.4,-3.0,-4.3,-5.3],
               [3.0,2.9,1.0,0.7,0.4,0.1,-0.2,-0.5,-0.9,-1.4,-2.0,-2.8,-4.2,-4.6,-4.9],
               [3.5,3.0,1.8,1.2,0.8,0.5,0.2,-0.1,-0.4,-0.8,-1.2,-4.5,-5.1],
               [3.2,1.0,0.8,0.0,-0.6,-1.1,-1.6,-2.2,-2.8,-3.4,-4.0,-4.5,-5.7],
               [3.7,3.2,2.0,1.2,0.9,0.6,0.3,0.0,-0.3,-0.7,-1.1,-1.6,-2.5,-4.5,-4.8,-5.4],
               [3.5,1.3,1.0,0.6,0.3,0.0,-0.3,-0.7,-1.1,-1.4,-3.8,-5.3],
               [0.7,0.4,0.1,-0.2,-0.6,-0.9,-1.8,-3.5,-3.8],
               [1.4,1.1,0.8,0.5,0.2,-0.1,-0.4,-0.8,-1.2,-1.7,-4.1,-4.3],
               [1.1,0.8,0.5,0.2,-0.1,-0.4,-0.8,-1.2,-1.5],
               [1.2,0.7,0.2,-0.2,-0.6,-1.1,-1.8,-2.3,-3.7,-5.1]]

S2_G3A1_BOX = [[-5.49,-4.09,-1.64,-0.17,1.68],[-5.31,-4.09,-0.59,0.0,1.15],[-4.27,-3.15,-1.05,0.17,1.5],
               [-5.73,-4.2,-1.19,-0.17,1.15],[-5.49,-2.52,-0.87,-0.07,0.91],[-4.62,-3.74,-2.1,-0.77,0.28],
               [-5.66,-2.1,-0.49,0.0,1.26],[-1.99,-1.22,-0.52,-0.24,0.91],[-4.79,-4.27,-1.47,-0.35,0.28],
               [-5.84,-2.69,-0.77,0.0,1.5],[-4.27,-1.99,-0.7,-0.24,0.98],[-3.74,-1.89,-1.12,-0.24,0.28]]
S2_G3A1_PTS = [[1.6,1.3,0.8,0.2,-0.3,-0.8,-1.3,-1.8,-2.4,-3.0,-3.6,-4.1,-4.6,-5.1,-5.4],
               [1.1,0.7,0.2,-0.3,-0.7,-1.2,-1.8,-2.5,-3.2,-3.9,-4.5,-5.3],
               [1.5,0.9,0.3,-0.3,-0.9,-1.5,-2.1,-2.7,-3.2,-3.9,-4.3],
               [1.1,0.8,0.4,0.0,-0.4,-0.8,-1.2,-1.7,-2.2,-2.8,-3.4,-4.0,-4.5,-5.0,-5.5],
               [0.9,0.5,0.1,-0.3,-0.7,-1.1,-1.6,-2.2,-2.8,-3.6,-4.4,-5.2],
               [0.3,-0.3,-0.8,-1.3,-1.8,-2.3,-2.9,-3.5,-4.2,-4.6],
               [1.2,0.9,0.5,0.2,-0.2,-0.5,-0.8,-1.2,-1.6,-2.1,-2.7,-4.2,-4.8,-5.3,-5.6],
               [0.9,0.5,0.1,-0.2,-0.5,-0.8,-1.2,-1.7,-4.2,-5.0,-5.7],
               [0.3,-0.3,-0.9,-1.5,-2.1,-2.8,-3.5,-4.2,-5.1],
               [1.4,1.0,0.6,0.2,-0.2,-0.6,-1.0,-1.5,-2.0,-2.6,-4.3,-4.9,-5.4,-5.7],
               [1.0,0.6,0.2,-0.2,-0.5,-0.9,-1.3,-1.8,-2.5,-4.2,-5.3,-5.8],
               [0.3,-0.1,-0.5,-0.9,-1.3,-1.7,-2.2,-3.7,-5.1,-5.5]]

N_MG1_BOX = [[-1.18,-0.24,0.74,1.32,3.1],[-0.44,-0.24,0.15,0.65,0.88],[-1.7,-0.68,0.0,1.03,1.47],
             [-2.35,-0.38,0.35,1.03,3.1],[-1.03,-0.35,0.35,0.65,2.06],[-1.6,-0.15,0.74,1.82,3.9],
             [-1.47,-0.3,0.3,0.74,2.06],[-1.41,-0.74,-0.3,0.35,1.82],[-1.03,-0.06,0.59,1.24,1.47],
             [-1.12,-0.65,-0.06,0.65,2.2],[-1.38,-0.65,0.0,0.35,1.12],[-1.62,-0.74,-0.06,0.8,1.38]]
N_MG1_PTS = [[5.3,5.2,3.1,2.8,2.0,1.5,1.2,0.9,0.6,0.3,0.0,-0.3,-0.7,-1.1],
             [5.5,3.6,0.8,0.5,0.3,0.1,-0.1,-0.4,-3.1],
             [1.5,1.0,0.5,0.0,-0.4,-0.9,-1.7,-4.3],
             [5.2,5.0,4.6,4.4,3.0,2.1,1.5,1.1,0.8,0.5,0.2,-0.1,-0.5,-0.9,-1.3,-1.8,-2.3],
             [3.4,2.2,2.0,1.5,0.6,0.4,0.1,-0.2,-0.6,-1.0,-3.9],
             [4.7,3.9,3.1,2.8,1.8,1.5,1.0,0.6,0.1,-0.2,-1.6,-3.2],
             [4.5,4.5,2.2,2.0,1.5,1.0,0.7,0.4,0.1,-0.2,-0.6,-1.0,-1.4],
             [3.1,1.8,1.2,0.6,0.3,0.0,-0.3,-0.6,-0.9,-1.4,-3.4],
             [5.2,5.1,1.4,1.2,0.9,0.6,0.3,0.0,-0.5,-1.0],
             [5.2,5.1,2.6,2.1,1.5,0.6,0.3,0.0,-0.3,-0.6,-1.1,-4.8],
             [1.1,0.9,0.5,0.2,0.0,-0.3,-0.6,-0.9,-1.2],
             [5.4,5.0,1.3,1.0,0.6,0.2,-0.1,-0.5,-0.8,-1.6]]

N_MG3_BOX = [[-0.47,0.18,1.28,1.57,3.47],[-2.0,0.0,0.62,1.75,4.38],[-2.19,-0.84,0.0,0.26,0.99],
             [-1.64,0.18,1.1,2.3,5.3],[-1.93,0.26,0.91,1.64,3.76],[-1.46,-0.18,0.36,1.28,2.3],
             [-1.2,0.0,0.73,1.28,2.81],[-1.57,-0.36,0.55,1.1,2.08],[-1.1,-0.18,0.62,1.46,3.1],
             [-1.46,0.0,0.55,1.82,3.54],[-1.28,-0.18,0.36,1.17,2.0],[-1.57,0.0,0.91,1.28,1.93]]
N_MG3_PTS = [[5.5,5.2,4.8,3.4,2.8,2.3,1.6,1.3,1.0,0.7,0.4,0.1,-0.3,-2.2,-4.9],
             [4.4,3.0,2.3,1.8,1.2,0.8,0.5,0.1,-0.4,-1.1,-2.0],
             [3.9,2.0,0.9,0.3,0.0,-0.3,-0.7,-1.3,-2.2],
             [5.5,5.3,5.0,4.6,4.0,3.3,2.6,2.1,1.7,1.3,0.9,0.6,0.3,0.0,-0.5,-1.2,-1.6,-3.3],
             [4.8,4.6,3.7,2.4,1.6,1.2,0.9,0.5,0.1,-0.4,-1.2,-1.9],
             [5.4,4.5,2.2,1.4,0.9,0.5,0.1,-0.4,-1.0,-1.5],
             [6.2,6.0,5.7,5.5,5.0,2.8,2.0,1.5,1.1,0.8,0.5,0.2,-0.2,-0.6,-1.2],
             [4.7,4.2,2.0,1.5,1.1,0.7,0.4,0.0,-0.4,-0.9,-1.5],
             [5.0,4.8,3.1,1.5,1.0,0.6,0.2,-0.3,-1.0],
             [6.1,5.8,4.8,3.5,2.6,2.0,1.6,1.2,0.8,0.5,0.2,-0.2,-0.7,-1.4,-3.4],
             [4.6,4.4,2.0,1.5,1.1,0.7,0.4,0.0,-0.4,-0.9,-1.3],
             [5.6,4.6,1.8,1.3,0.9,0.5,0.2,-0.6,-1.5]]

N_MA_BOX = [[-1.41,-0.7,-0.1,0.32,1.13],[-1.51,-0.46,0.25,0.32,0.95],[-2.22,-1.51,-0.63,-0.35,0.85],
            [-1.51,-0.81,-0.21,0.25,0.85],[-1.76,-0.81,-0.21,0.18,0.77],[-1.69,-0.81,-0.1,0.25,0.77],
            [-1.51,-0.63,-0.1,0.18,1.3],[-2.68,-1.16,-0.46,0.14,0.77],[-1.34,-1.16,-0.56,0.07,0.77],
            [-1.16,-0.63,-0.1,0.18,0.95],[-1.62,-1.06,-0.28,0.25,1.13],[-1.69,-1.16,-0.63,-0.28,0.77]]
N_MA_PTS = [[1.1,0.8,0.5,0.2,-0.1,-0.4,-0.7,-1.1,-1.4,-5.6],
            [1.0,0.7,0.4,0.1,-0.2,-0.5,-0.9,-1.4],
            [0.9,0.2,-0.3,-0.6,-0.9,-1.3,-2.0,-4.1,-4.5],
            [1.0,0.7,0.4,0.1,-0.2,-0.5,-0.8,-1.2,-1.5,-5.2],
            [1.0,0.6,0.3,0.0,-0.3,-0.6,-0.9,-1.3,-1.7],
            [1.0,0.6,0.2,-0.2,-0.5,-0.8,-1.2,-1.6,-4.8],
            [2.0,1.3,0.9,0.5,0.2,-0.1,-0.4,-0.7,-1.1,-1.5],
            [1.0,0.7,0.3,0.0,-0.3,-0.6,-1.0,-1.4,-1.9,-2.5],
            [0.9,0.5,0.1,-0.3,-0.6,-0.9,-1.3],
            [2.0,1.0,0.7,0.4,0.1,-0.2,-0.5,-0.8,-1.6,-3.7],
            [1.2,0.9,0.5,0.2,-0.1,-0.4,-0.8,-1.2,-1.6],
            [1.0,0.5,0.1,-0.3,-0.6,-0.9,-1.3,-1.7]]

N_G1A1_BOX = [[-3.57,-1.64,-0.24,0.63,1.08],[-1.47,-0.66,0.0,0.28,3.25],[-2.0,-1.36,-0.52,-0.07,0.8],
              [-2.17,-0.94,-0.17,0.45,1.08],[-2.27,-1.12,-0.17,0.35,1.15],[-3.57,-1.71,-0.87,-0.24,1.15],
              [-2.69,-0.94,-0.07,0.28,1.33],[-1.82,-0.87,-0.07,0.38,1.33],[-2.52,-1.36,-0.59,-0.42,0.38],
              [-1.92,-0.59,0.28,0.52,1.15],[-1.64,-0.77,-0.17,0.52,1.57],[-2.0,-1.12,-0.42,0.28,1.33]]
N_G1A1_PTS = [[1.1,0.9,0.6,0.3,0.0,-0.3,-0.6,-1.0,-1.4,-1.8,-2.3,-3.6,-4.4,-5.8],
              [3.1,0.3,0.1,-0.1,-0.3,-0.6,-1.0,-1.4,-4.5,-4.5],
              [0.8,0.4,0.0,-0.4,-0.8,-1.2,-1.6,-2.0,-4.5],
              [1.1,0.8,0.5,0.2,-0.1,-0.4,-0.7,-1.0,-1.4,-1.8,-2.2,-3.0,-4.5,-5.6],
              [3.8,1.1,0.8,0.4,0.1,-0.2,-0.5,-0.9,-1.3,-1.8,-2.2,-3.6,-4.4],
              [1.1,0.3,-0.2,-0.6,-1.0,-1.4,-1.8,-2.5,-3.4,-3.9,-4.5],
              [1.2,0.9,0.6,0.3,0.0,-0.3,-0.6,-1.0,-1.4,-2.0,-2.9,-3.8,-5.8],
              [1.3,1.0,0.6,0.3,0.0,-0.3,-0.6,-1.0,-1.4,-1.8,-3.8],
              [0.3,-0.3,-0.6,-0.9,-1.3,-2.1,-2.5,-4.3],
              [1.1,0.8,0.5,0.2,-0.1,-0.4,-0.8,-1.2,-1.9,-2.6,-4.6,-4.9],
              [1.5,1.0,0.6,0.3,0.0,-0.3,-0.7,-1.1,-1.5],
              [1.2,0.6,0.1,-0.3,-0.7,-1.1,-2.0,-4.3,-5.9]]

N_G3A1_BOX = [[-4.02,-1.92,-0.8,-0.28,1.12],[-4.3,-1.99,-0.7,-0.1,1.29],[-4.9,-1.99,-0.7,0.1,0.8],
              [-5.77,-2.8,-1.05,-0.45,1.75],[-4.37,-2.2,-1.15,-0.17,1.99],[-5.07,-2.1,-0.45,0.24,1.05],
              [-2.97,-1.57,-0.7,-0.24,1.92],[-2.8,-1.5,-0.7,-0.1,1.57],[-3.67,-1.75,-0.7,-0.35,0.87],
              [-3.32,-1.64,-0.8,-0.24,1.5],[-3.6,-1.64,-0.59,0.0,1.05],[-2.1,-1.5,-0.8,-0.35,1.15]]
N_G3A1_PTS = [[3.0,1.1,0.6,0.2,-0.2,-0.5,-0.8,-1.1,-1.5,-1.9,-2.5,-4.0,-4.7],
              [1.3,0.8,0.3,-0.2,-0.6,-1.0,-1.4,-1.9,-2.5,-4.3],
              [0.8,0.3,-0.2,-0.6,-1.0,-1.5,-2.0,-2.5,-4.1,-4.9],
              [1.8,1.2,0.6,0.1,-0.3,-0.7,-1.0,-1.4,-1.9,-2.4,-3.0,-3.7,-4.4,-5.2,-5.8],
              [2.0,1.3,0.6,0.1,-0.3,-0.8,-1.2,-1.6,-2.1,-2.8,-4.3,-5.3],
              [1.0,0.5,0.0,-0.5,-0.9,-1.4,-2.0,-3.9,-4.6,-5.1],
              [2.0,1.2,0.7,0.3,-0.1,-0.4,-0.7,-1.0,-1.3,-1.7,-2.2,-2.9,-4.3,-5.7,-6.0],
              [1.5,0.9,0.4,0.0,-0.4,-0.7,-1.1,-1.5,-2.1,-2.8,-4.4,-5.4],
              [0.9,0.3,-0.2,-0.6,-1.0,-1.4,-1.8,-2.5,-3.7,-6.0],
              [1.5,1.0,0.5,0.1,-0.3,-0.7,-1.0,-1.4,-1.8,-2.4,-3.3,-4.3,-5.1],
              [1.0,0.6,0.2,-0.2,-0.6,-1.0,-1.4,-1.8,-2.5,-3.6,-4.9],
              [1.2,0.7,0.2,-0.3,-0.7,-1.1,-1.5,-2.1]]

# significance brackets: (row, col, x from, x to, bracket height)
SIG_ROW = [1, 3, 3, 4, 4, 4, 4, 4, 3, 4, 4]
SIG_COL = [0, 0, 0, 0, 0, 1, 2, 2, 3, 3, 3]
SIG_X1 = [2.0, 1.75, 2.0, 2.75, 3.0, 0.75, 0.75, 1.0, 2.0, 2.75, 3.0]
SIG_X2 = [2.25, 2.0, 2.25, 3.0, 3.25, 1.25, 1.25, 1.25, 2.25, 3.25, 3.25]
SIG_Y = [6.33, 6.0, 7.2, 5.67, 6.97, 6.0, 1.45, 3.15, 5.07, 2.2, 3.6]

PANEL_BOX = [[RBD_MG1_BOX, RBD_MG3_BOX, RBD_MA_BOX, RBD_G1A1_BOX, RBD_G3A1_BOX],
             [S_MG1_BOX, S_MG3_BOX, S_MA_BOX, S_G1A1_BOX, S_G3A1_BOX],
             [S1_MG1_BOX, S1_MG3_BOX, S1_MA_BOX, S1_G1A1_BOX, S1_G3A1_BOX],
             [S2_MG1_BOX, S2_MG3_BOX, S2_MA_BOX, S2_G1A1_BOX, S2_G3A1_BOX],
             [N_MG1_BOX, N_MG3_BOX, N_MA_BOX, N_G1A1_BOX, N_G3A1_BOX]]
PANEL_PTS = [[RBD_MG1_PTS, RBD_MG3_PTS, RBD_MA_PTS, RBD_G1A1_PTS, RBD_G3A1_PTS],
             [S_MG1_PTS, S_MG3_PTS, S_MA_PTS, S_G1A1_PTS, S_G3A1_PTS],
             [S1_MG1_PTS, S1_MG3_PTS, S1_MA_PTS, S1_G1A1_PTS, S1_G3A1_PTS],
             [S2_MG1_PTS, S2_MG3_PTS, S2_MA_PTS, S2_G1A1_PTS, S2_G3A1_PTS],
             [N_MG1_PTS, N_MG3_PTS, N_MA_PTS, N_G1A1_PTS, N_G3A1_PTS]]

# ---------------- layout geometry (pixels): left, right, top, bottom, zero line, px per unit
W, H = 1539, 1131
GEOM = [
    [(111, 367, 60, 246.7, 170, 11.33), (403.3, 660, 60, 246.7, 170, 11.33),
     (691.7, 948.3, 50.7, 246.7, 167, 12.0), (971.7, 1228.3, 54, 250, 170, 11.9),
     (1262.7, 1519.3, 54, 250, 170, 11.9)],
    [(111, 367, 275, 461.7, 385, 11.33), (403.3, 660, 275, 461.7, 385, 11.33),
     (689.3, 946, 269.3, 460.7, 380, 12.0), (974, 1230.7, 271.7, 459.3, 379.3, 12.0),
     (1270, 1526.7, 271.7, 459.3, 379.3, 12.0)],
    [(111, 367, 490, 676.7, 600, 11.33), (403.3, 660, 490, 676.7, 600, 11.33),
     (691.7, 948.3, 483.3, 675.8, 595.8, 12.0), (971.7, 1228.3, 482, 678, 597.5, 12.0),
     (1269.3, 1526, 482, 678, 597.5, 12.0)],
    [(111, 367, 705, 891.7, 815, 11.33), (403.3, 660, 705, 892, 815.5, 11.33),
     (689, 945.7, 699.6, 892.5, 811.3, 12.0), (974, 1230.7, 701, 894, 812.5, 12.0),
     (1273.3, 1529.3, 701, 894, 812.5, 12.0)],
    [(111, 367, 920, 1106.7, 1030, 11.33), (403.3, 660, 921, 1108, 1031, 11.33),
     (689, 946, 914.6, 1109, 1026.7, 12.0), (975, 1230.7, 915.4, 1107, 1027, 11.95),
     (1273.3, 1529.3, 915.4, 1109, 1028, 12.0)],
]
COL_TITLE_X = [215, 511, 797, 1090, 1395]
ROW_LABEL_X = [40, 34, 35, 42, 35]
FONT = "Liberation Sans, Arial, Helvetica, sans-serif"
TICK_SIZE = [13.5, 13.5, 13, 13, 13]

fig = go.Figure()
layout = dict(width=W, height=H, margin=dict(l=0, r=0, t=0, b=0),
              paper_bgcolor="white", plot_bgcolor="white", boxmode="overlay",
              showlegend=False, font=dict(family=FONT))
annotations = []
shapes = []

for r in range(5):
    for c in range(5):
        idx = r * 5 + c + 1
        sfx = "" if idx == 1 else str(idx)
        xa, ya = "x" + sfx, "y" + sfx
        left, right, top, bottom, zero, ppu = GEOM[r][c]
        ymin = -(bottom - zero) / ppu
        ymax = (zero - top) / ppu
        axis_common = dict(showline=True, linecolor="#1a1a1a", linewidth=1, ticks="outside",
                           ticklen=3, tickwidth=1, tickcolor="#333333", showgrid=False,
                           zeroline=False, tickfont=dict(size=TICK_SIZE[c], color="#4d4d4d", family=FONT),
                           fixedrange=True)
        layout["xaxis" + sfx] = dict(domain=[left / W, right / W], anchor=ya, range=[0.4, 4.6],
                                     tickmode="array", tickvals=[1, 2, 3, 4], ticktext=BINS,
                                     ticklabelstandoff=-3, **axis_common)
        layout["yaxis" + sfx] = dict(domain=[1 - bottom / H, 1 - top / H], anchor=xa, range=[ymin, ymax],
                                     tickmode="array", tickvals=[-5, 0, 5], ticktext=["\u22125", "0", "5"],
                                     ticklabelstandoff=-2, **axis_common)
        boxes = PANEL_BOX[r][c]
        for g in range(3):
            xs = [b + 1 + (g - 1) * 0.25 for b in range(4)]
            st = [boxes[b * 3 + g] for b in range(4)]
            fig.add_trace(go.Box(
                x=xs, lowerfence=[s[0] for s in st], q1=[s[1] for s in st], median=[s[2] for s in st],
                q3=[s[3] for s in st], upperfence=[s[4] for s in st], orientation="v",
                width=0.233, fillcolor=GROUP_COLORS[g], line=dict(color="#3a3a3a", width=1),
                whiskerwidth=0, boxpoints=False, xaxis=xa, yaxis=ya, showlegend=False, hoverinfo="skip"))
        px, py = [], []
        for bi, vals in enumerate(PANEL_PTS[r][c]):
            b, g = divmod(bi, 3)
            cx = b + 1 + (g - 1) * 0.25
            for k, v in enumerate(vals):
                off = (((k + 1) * 0.6180339887 + bi * 0.37 + r * 0.11 + c * 0.23) % 1.0) - 0.5
                px.append(cx + off * 0.2)
                py.append(v)
        fig.add_trace(go.Scatter(x=px, y=py, mode="markers", xaxis=xa, yaxis=ya,
                                 marker=dict(size=2.8, color="black", line=dict(width=0)),
                                 showlegend=False, hoverinfo="skip"))
        if c == 0:
            annotations.append(dict(text="log(ratio)", xref="paper", yref="paper", x=83 / W,
                                    y=1 - ((top + bottom) / 2) / H, showarrow=False, textangle=-90,
                                    font=dict(size=15.5, color="black", family=FONT),
                                    xanchor="center", yanchor="middle"))

# significance brackets
for i in range(len(SIG_Y)):
    idx = SIG_ROW[i] * 5 + SIG_COL[i] + 1
    sfx = "" if idx == 1 else str(idx)
    xr, yr = "x" + sfx, "y" + sfx
    x1, x2, yv = SIG_X1[i], SIG_X2[i], SIG_Y[i]
    tip = 0.3
    shapes.append(dict(type="path", xref=xr, yref=yr,
                       path=f"M {x1} {yv - tip} L {x1} {yv} L {x2} {yv} L {x2} {yv - tip}",
                       line=dict(color="black", width=1)))
    annotations.append(dict(text="*", xref=xr, yref=yr, x=(x1 + x2) / 2, y=yv, showarrow=False,
                            xanchor="center", yanchor="bottom", yshift=-6,
                            font=dict(size=17, color="black", family=FONT)))

for c, t in enumerate(COLS):
    annotations.append(dict(text=t, xref="paper", yref="paper", x=COL_TITLE_X[c] / W, y=1 - 25 / H,
                            showarrow=False, xanchor="center", yanchor="middle",
                            font=dict(size=25, color="black", family=FONT)))
for r, t in enumerate(ROWS):
    top, bottom = GEOM[r][0][2], GEOM[r][0][3]
    annotations.append(dict(text=t, xref="paper", yref="paper", x=ROW_LABEL_X[r] / W,
                            y=1 - ((top + bottom) / 2 + 8) / H, showarrow=False,
                            xanchor="center", yanchor="middle",
                            font=dict(size=26, color="black", family=FONT)))

layout["annotations"] = annotations
layout["shapes"] = shapes
fig.update_layout(**layout)
fig.write_html("out.html", config={"displayModeBar": False, "staticPlot": True},
               post_script="document.body.style.margin='0';document.body.style.overflow='hidden';")
